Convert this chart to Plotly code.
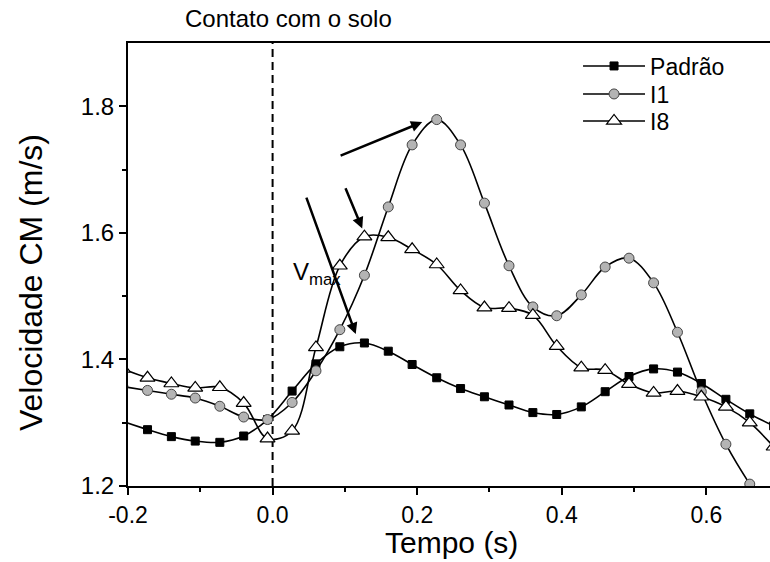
import plotly.graph_objects as go

# time points (s), sampled at 30 Hz
tempo = [-0.207, -0.173, -0.140, -0.107, -0.073, -0.040, -0.007, 0.027, 0.060, 0.093,
         0.127, 0.160, 0.193, 0.227, 0.260, 0.293, 0.327, 0.360, 0.393, 0.427,
         0.460, 0.493, 0.527, 0.560, 0.593, 0.627, 0.660, 0.693]

padrao = [1.302, 1.289, 1.278, 1.271, 1.269, 1.279, 1.305, 1.350, 1.393, 1.420,
          1.426, 1.413, 1.392, 1.371, 1.354, 1.341, 1.328, 1.316, 1.313, 1.325,
          1.349, 1.373, 1.385, 1.380, 1.362, 1.337, 1.314, 1.295]

i1 = [1.357, 1.351, 1.345, 1.339, 1.326, 1.309, 1.305, 1.332, 1.382, 1.447,
      1.533, 1.641, 1.739, 1.779, 1.739, 1.647, 1.548, 1.483, 1.469, 1.502,
      1.546, 1.560, 1.521, 1.443, 1.349, 1.266, 1.203, 1.150]

i8 = [1.385, 1.371, 1.362, 1.355, 1.356, 1.331, 1.275, 1.287, 1.419, 1.548,
      1.594, 1.593, 1.574, 1.550, 1.509, 1.482, 1.481, 1.470, 1.421, 1.387,
      1.383, 1.361, 1.347, 1.350, 1.341, 1.325, 1.300, 1.262]

series_names = ["Padrão", "I1", "I8"]
x_ticks = [-0.2, 0.0, 0.2, 0.4, 0.6]
x_ticktext = ["-0.2", "0.0", "0.2", "0.4", "0.6"]
y_ticks = [1.2, 1.4, 1.6, 1.8]
y_ticktext = ["1.2", "1.4", "1.6", "1.8"]

FONT = "Arial, Liberation Sans, sans-serif"

fig = go.Figure()

fig.add_trace(go.Scatter(
    x=tempo, y=padrao, name=series_names[0], mode="lines+markers", legend="legend",
    line=dict(color="black", width=1.6, shape="spline", smoothing=1.0),
    marker=dict(symbol="square", size=8, color="black", line=dict(color="black", width=1)),
))
fig.add_trace(go.Scatter(
    x=tempo, y=i1, name=series_names[1], mode="lines+markers", legend="legend2",
    line=dict(color="black", width=1.6, shape="spline", smoothing=1.0),
    marker=dict(symbol="circle", size=10, color="#b4b4b4", line=dict(color="#444444", width=1)),
))
fig.add_trace(go.Scatter(
    x=tempo, y=i8, name=series_names[2], mode="lines+markers", legend="legend3",
    line=dict(color="black", width=1.6, shape="spline", smoothing=1.0),
    marker=dict(symbol="triangle-up", size=13, color="white", line=dict(color="black", width=1.2)),
))

# vertical dashed line at ground contact
fig.add_shape(type="line", xref="x", yref="paper", x0=0, x1=0, y0=0, y1=1,
              line=dict(color="black", width=2, dash="8px,5px"), layer="below")

# annotations
fig.add_annotation(text="Contato com o solo", xref="x", yref="paper", x=0.022, y=1.056,
                   showarrow=False, font=dict(family=FONT, size=24, color="black"),
                   xanchor="center", yanchor="middle")
fig.add_annotation(text="V<sub>max</sub>", xref="x", yref="y", x=0.062, y=1.535,
                   showarrow=False, font=dict(family=FONT, size=24, color="black"),
                   xanchor="center", yanchor="middle")

# axis titles
fig.add_annotation(text="Tempo (s)", xref="paper", yref="paper", x=(452 - 128) / 642, y=(486 - 542) / 443,
                   showarrow=False, font=dict(family=FONT, size=30, color="black"),
                   xanchor="center", yanchor="middle")
fig.add_annotation(text="Velocidade CM (m/s)", xref="paper", yref="paper", x=(31 - 128) / 642,
                   y=(486 - 283) / 443, textangle=-90,
                   showarrow=False, font=dict(family=FONT, size=32, color="black"),
                   xanchor="center", yanchor="middle")

arrows = [
    ((0.092, 1.721), (0.207, 1.775)),
    ((0.100, 1.673), (0.124, 1.607)),
    ((0.046, 1.658), (0.115, 1.440)),
]
for (tx, ty), (hx, hy) in arrows:
    fig.add_annotation(x=hx, y=hy, ax=tx, ay=ty, xref="x", yref="y", axref="x", ayref="y",
                       text="", showarrow=True, arrowhead=2, arrowsize=0.9, arrowwidth=2.5,
                       arrowcolor="black", standoff=0, startstandoff=0)

leg_common = dict(x=0.701, xanchor="left", yanchor="middle", bgcolor="rgba(0,0,0,0)",
                  font=dict(family=FONT, size=23, color="black"), itemwidth=62)

fig.update_layout(
    width=770, height=562,
    margin=dict(l=128, r=0, t=43, b=76),
    paper_bgcolor="white", plot_bgcolor="white",
    font=dict(family=FONT, color="black"),
    showlegend=True,
    legend=dict(y=(486 - 66) / 443, **leg_common),
    legend2=dict(y=(486 - 94) / 443, **leg_common),
    legend3=dict(y=(486 - 121) / 443, **leg_common),
    xaxis=dict(range=[-0.2, 0.688], tickvals=x_ticks, ticktext=x_ticktext,
               showgrid=False, zeroline=False, showline=True, linecolor="black", linewidth=2,
               mirror=True, ticks="outside", ticklen=7, tickwidth=1.5, tickcolor="black",
               minor=dict(tickvals=[-0.1, 0.1, 0.3, 0.5], ticks="outside", ticklen=4,
                          tickwidth=1.5, tickcolor="black"),
               tickfont=dict(family=FONT, size=23, color="black")),
    yaxis=dict(range=[1.2, 1.9], tickvals=y_ticks, ticktext=y_ticktext,
               showgrid=False, zeroline=False, showline=True, linecolor="black", linewidth=2,
               ticks="outside", ticklen=7, tickwidth=1.5, tickcolor="black",
               minor=dict(tickvals=[1.3, 1.5, 1.7], ticks="outside", ticklen=4,
                          tickwidth=1.5, tickcolor="black"),
               tickfont=dict(family=FONT, size=24, color="black")),
)

fig.write_html("out.html")
